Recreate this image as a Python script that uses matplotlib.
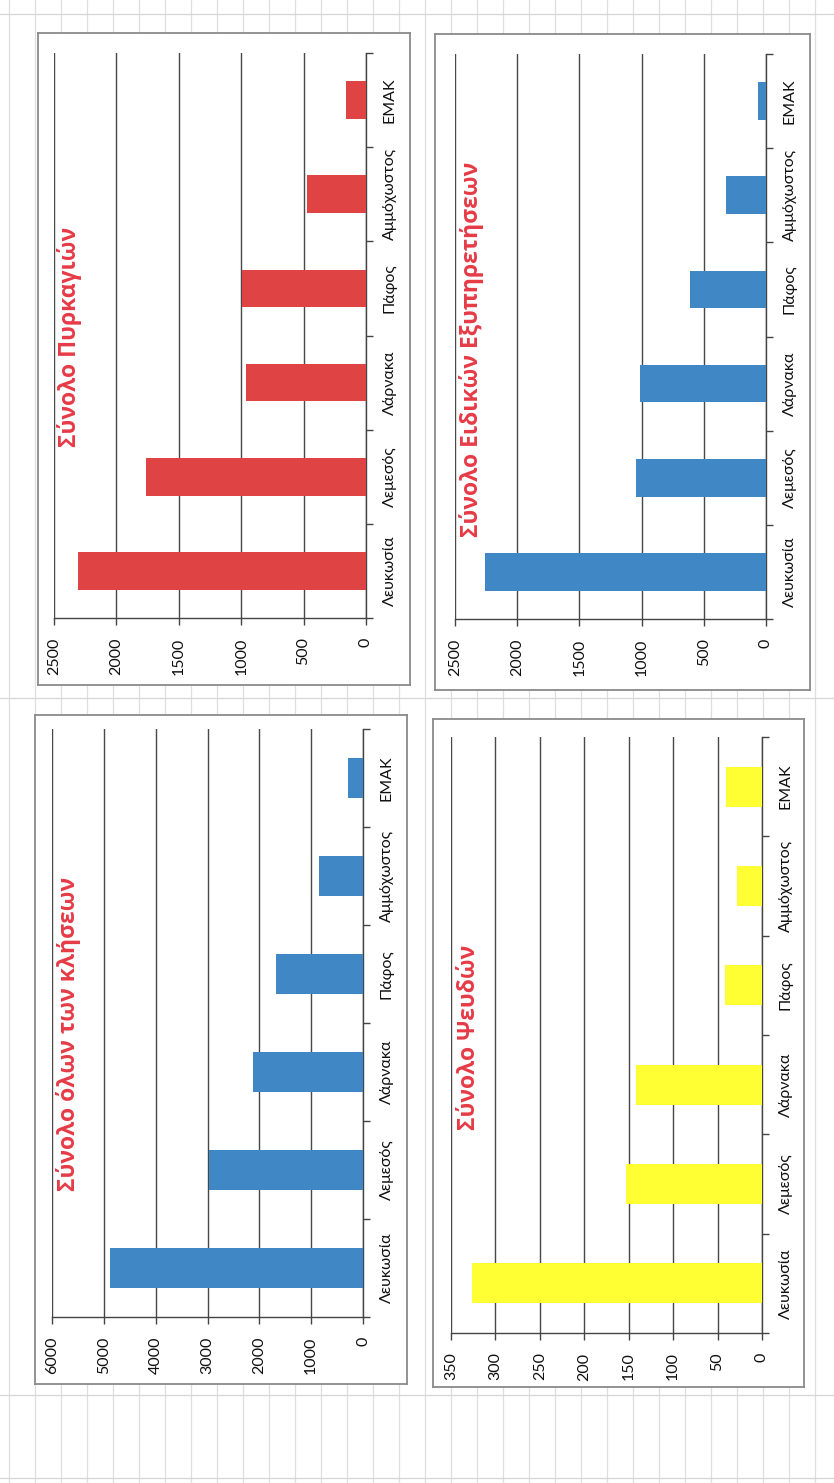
import matplotlib.pyplot as plt
import numpy as np

plt.rcParams['font.family'] = ['Lato', 'Open Sans', 'DejaVu Sans']

W, H = 834, 1483

categories = ['Λευκωσία', 'Λεμεσός', 'Λάρνακα', 'Πάφος', 'Αμμόχωστος', 'ΕΜΑΚ']
fires = [2310, 1760, 960, 990, 470, 160]
special_services = [2260, 1045, 1015, 610, 322, 65]
all_calls = [4890, 2970, 2130, 1670, 840, 290]
false_calls = [326, 153, 142, 42, 28, 40]

titles = ['Σύνολο Πυρκαγιών', 'Σύνολο Ειδικών Εξυπηρετήσεων',
          'Σύνολο όλων των κλήσεων', 'Σύνολο Ψευδών']
axis_max = [2500, 2500, 6000, 350]
axis_step = [500, 500, 1000, 50]


def rect(x0, y0, x1, y1):
    # pixel box (top-left origin) -> figure fraction
    return [x0 / W, 1 - y1 / H, (x1 - x0) / W, (y1 - y0) / H]


fig = plt.figure(figsize=(W / 100, H / 100), dpi=100)

# faint graph-paper lines of the scanned page
bg = fig.add_axes([0, 0, 1, 1], zorder=0)
bg.set_xlim(0, W)
bg.set_ylim(H, 0)
bg.axis('off')
for x in np.arange(9, W, 26):
    bg.axvline(x, color='#dedede', lw=0.9)
for y in [14, 698, 1395, 1478]:
    bg.axhline(y, color='#d6d6d6', lw=0.9)

# frame box, plot box, title centre, colour
layout = [
    ((38, 33, 410, 685), (54, 53, 366, 618), (69, 337), '#e04343'),
    ((435, 34, 810, 690), (455, 54, 766, 619), (472, 349), '#3f88c5'),
    ((35, 715, 407, 1384), (52, 729, 363, 1317), (69, 1034), '#3f88c5'),
    ((433, 719, 804, 1387), (451, 737, 762, 1333), (469, 1037), '#ffff33'),
]
series = [fires, special_services, all_calls, false_calls]

for i in range(4):
    frame, plot, tpos, color = layout[i]
    fa = fig.add_axes(rect(*frame), zorder=1)
    fa.set_xticks([])
    fa.set_yticks([])
    fa.set_facecolor('white')
    for s in fa.spines.values():
        s.set_color('#8a8a8a')
        s.set_linewidth(1.3)

    ax = fig.add_axes(rect(*plot), zorder=2)
    ax.patch.set_visible(False)
    pos = np.arange(len(categories))
    ax.barh(pos, series[i], height=0.4, color=color, zorder=3)
    ax.set_xlim(axis_max[i], 0)
    ax.set_ylim(-0.5, len(categories) - 0.5)
    ax.set_xticks(np.arange(0, axis_max[i] + 1, axis_step[i]))
    ax.tick_params(axis='x', labelrotation=90, labelsize=11.5, length=5,
                   width=1, color='#444444', pad=9, labelcolor='#111111')
    ax.xaxis.grid(True, color='#474747', lw=1)
    ax.set_axisbelow(True)

    ax.yaxis.tick_right()
    ax.set_yticks(pos)
    ax.set_yticklabels(categories, rotation=90, va='center')
    ax.set_yticks(np.arange(-0.5, len(categories), 1), minor=True)
    ax.tick_params(axis='y', which='major', length=0, pad=12, labelsize=11.5,
                   labelcolor='#111111')
    ax.tick_params(axis='y', which='minor', length=5, width=1, color='#444444')

    for side in ['left', 'top']:
        ax.spines[side].set_visible(False)
    for side in ['right', 'bottom']:
        ax.spines[side].set_color('#444444')
        ax.spines[side].set_linewidth(1)

    fig.text(tpos[0] / W, 1 - tpos[1] / H, titles[i], rotation=90,
             ha='center', va='center', fontsize=16.5, fontweight='bold',
             family=['Open Sans', 'DejaVu Sans'], color='#e63b47', zorder=5)

fig.savefig('out.png', dpi=100)
